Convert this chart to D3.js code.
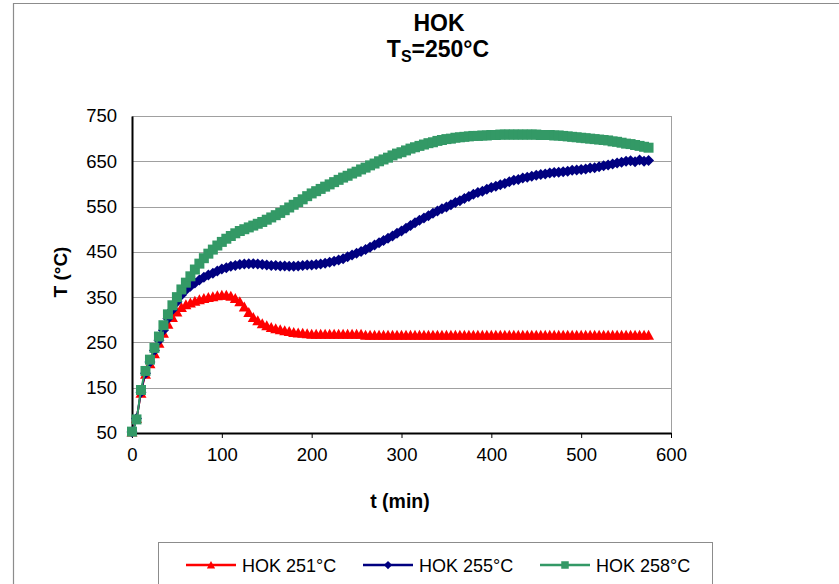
<!DOCTYPE html>
<html>
<head>
<meta charset="utf-8">
<script src="https://cdn.jsdelivr.net/npm/d3@7"></script>
<style>
  body { margin: 0; background: #fff; }
  svg { display: block; font-family: "Liberation Sans", Arial, sans-serif; }
  .grid line { stroke: #a0a0a0; stroke-width: 1; }
  .axis path, .axis line { stroke: #000; }
  .axis text { font-size: 18.5px; fill: #000; }
</style>
</head>
<body>
<div id="chart"></div>
<script>
// time in minutes, one reading every 5 min
var times = [0,5,10,15,20,25,30,35,40,45,50,55,60,65,70,75,80,85,90,95,
  100,105,110,115,120,125,130,135,140,145,150,155,160,165,170,175,180,185,190,195,
  200,205,210,215,220,225,230,235,240,245,250,255,260,265,270,275,280,285,290,295,
  300,305,310,315,320,325,330,335,340,345,350,355,360,365,370,375,380,385,390,395,
  400,405,410,415,420,425,430,435,440,445,450,455,460,465,470,475,480,485,490,495,
  500,505,510,515,520,525,530,535,540,545,550,555,560,565,570,575];

var hok251 = [52,82,138,180,203,225,248,270,290,305,317,327,333,337,341,344,347,349,351,353,
  354,354,352,347,340,328,316,305,298,291,287,283,280,278,276,274,272,271,270,269,
  268,268,268,268,268,268,268,268,268,268,268,268,266,266,266,266,266,266,266,266,
  266,266,266,266,266,266,266,266,266,266,266,266,266,266,266,266,266,266,266,266,
  266,266,266,266,266,266,266,266,266,266,266,266,266,266,266,266,266,266,266,266,
  266,266,266,266,266,266,266,266,266,266,266,266,266,266,266,266];

var hok255 = [52,82,140,182,207,232,255,277,303,322,340,355,366,374,381,388,394,399,403,408,
  412,415,418,420,422,423,424,424,423,422,421,420,420,419,419,418,418,419,420,421,
  421,422,423,425,427,429,432,435,439,443,447,451,455,460,465,470,475,480,485,491,
  496,502,508,514,520,525,530,535,540,545,549,554,559,563,568,572,577,581,584,588,
  592,595,598,601,605,608,610,613,615,617,619,621,622,624,625,626,627,628,630,631,
  632,633,635,636,638,640,642,644,646,648,650,651,649,653,650,652];

var hok258 = [53,80,145,187,212,238,263,288,312,332,350,367,382,396,411,424,436,446,455,464,
  472,479,485,491,496,500,504,508,512,516,521,526,531,536,542,548,554,560,566,573,
  579,584,589,594,599,604,609,614,618,623,627,632,636,641,645,650,654,658,663,667,
  670,674,678,681,684,687,690,692,695,697,699,700,702,703,704,705,706,706,707,707,
  708,708,709,709,709,709,709,709,709,709,709,708,708,708,707,707,706,705,704,703,
  702,701,700,699,698,697,696,694,693,691,689,688,686,684,682,680];

var seriesNames = ["HOK 251°C", "HOK 255°C", "HOK 258°C"];
var seriesColors = ["#ff0000", "#000080", "#339966"];
var xTicks = [0,100,200,300,400,500,600];
var yTicks = [50,150,250,350,450,550,650,750];

var W = 839, H = 584;
var margin = {top: 116, left: 132, right: 168, bottom: 151};
var width = W - margin.left - margin.right,
    height = H - margin.top - margin.bottom;

var x = d3.scaleLinear().domain([0, 600]).range([0, width]);
var y = d3.scaleLinear().domain([50, 750]).range([height, 0]);

var svg = d3.select("#chart").append("svg")
    .attr("width", W)
    .attr("height", H);

// outer chart frame (runs off the right and bottom edge)
svg.append("path")
    .attr("d", "M13.5," + (H + 2) + "V3.5H" + (W + 2))
    .attr("fill", "none")
    .attr("stroke", "#8c8c8c")
    .attr("stroke-width", 1.2);

// title
svg.append("text")
    .attr("text-anchor", "middle")
    .attr("font-weight", "bold")
    .attr("font-size", 23)
    .attr("x", 439).attr("y", 31)
    .text("HOK");
var t2 = svg.append("text")
    .attr("text-anchor", "middle")
    .attr("font-weight", "bold")
    .attr("font-size", 23)
    .attr("x", 438).attr("y", 57);
t2.append("tspan").text("T");
t2.append("tspan").attr("font-size", 16).attr("dy", 5).text("S");
t2.append("tspan").attr("dy", -5).text("=250°C");

var g = svg.append("g")
    .attr("transform", "translate(" + margin.left + "," + margin.top + ")");

// gridlines
g.append("g").attr("class", "grid")
  .selectAll("line")
  .data(yTicks.slice(1))
  .enter().append("line")
    .attr("x1", 0).attr("x2", width)
    .attr("y1", function(d) { return Math.round(y(d)) + 0.5; })
    .attr("y2", function(d) { return Math.round(y(d)) + 0.5; });

// right border of plot area
g.append("line")
    .attr("x1", width + 0.5).attr("x2", width + 0.5)
    .attr("y1", 0).attr("y2", height)
    .attr("stroke", "#a0a0a0");

// axes
g.append("g")
    .attr("class", "axis axis--x")
    .attr("transform", "translate(0," + height + ")")
    .call(d3.axisBottom(x).tickValues(xTicks).tickSize(5).tickSizeOuter(0).tickPadding(10))
    .call(function(s) { s.selectAll(".tick line").attr("stroke", "#808080"); s.select(".domain").attr("stroke-width", 2); });

g.append("g")
    .attr("class", "axis axis--y")
    .call(d3.axisLeft(y).tickValues(yTicks).tickSize(0).tickSizeOuter(0).tickPadding(15))
    .call(function(s) { s.select(".domain").attr("stroke-width", 2); });

// axis titles
svg.append("text")
    .attr("text-anchor", "middle")
    .attr("font-weight", "bold")
    .attr("font-size", 19.5)
    .attr("x", 400).attr("y", 508)
    .text("t (min)");
svg.append("text")
    .attr("text-anchor", "middle")
    .attr("font-weight", "bold")
    .attr("font-size", 19)
    .attr("transform", "translate(67,272) rotate(-90)")
    .text("T (°C)");

// markers
var markerPath = [
  "M0,-5.5L5.5,4.5L-5.5,4.5Z",   // triangle
  "M0,-5.5L5.5,0L0,5.5L-5.5,0Z", // diamond
  "M-5,-5H5V5H-5Z"               // square
];

var allSeries = [hok251, hok255, hok258];
var line = d3.line()
    .curve(d3.curveMonotoneX)
    .x(function(d) { return x(d[0]); })
    .y(function(d) { return y(d[1]); });

allSeries.forEach(function(vals, si) {
  var pts = times.map(function(t, i) { return [t, vals[i]]; });
  var sg = g.append("g").attr("class", "series s" + si);
  sg.append("path")
      .datum(pts)
      .attr("fill", "none")
      .attr("stroke", seriesColors[si])
      .attr("stroke-width", 2)
      .attr("d", line);
  sg.selectAll(".pt")
      .data(pts)
    .enter().append("path")
      .attr("class", "pt")
      .attr("d", markerPath[si])
      .attr("fill", seriesColors[si])
      .attr("transform", function(d) { return "translate(" + x(d[0]) + "," + y(d[1]) + ")"; });
});

// legend
var legend = svg.append("g").attr("class", "legend");
legend.append("rect")
    .attr("x", 158.5).attr("y", 542.5)
    .attr("width", 554).attr("height", 60)
    .attr("fill", "#fff")
    .attr("stroke", "#8c8c8c");

var legX = [186, 363, 540];
seriesNames.forEach(function(name, si) {
  var lg = legend.append("g").attr("transform", "translate(" + legX[si] + ",565)");
  lg.append("line")
      .attr("x1", 0).attr("x2", 50)
      .attr("stroke", seriesColors[si])
      .attr("stroke-width", 2.5);
  lg.append("path")
      .attr("d", markerPath[si])
      .attr("transform", "translate(25,0) scale(0.75)")
      .attr("fill", seriesColors[si]);
  lg.append("text")
      .attr("x", 56).attr("y", 6.5)
      .attr("font-size", 18)
      .text(name);
});
</script>
</body>
</html>
